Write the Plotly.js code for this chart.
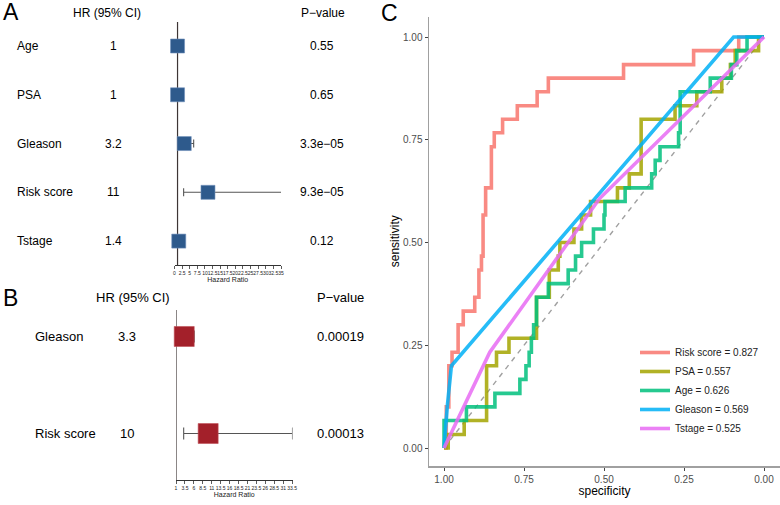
<!DOCTYPE html>
<html><head><meta charset="utf-8">
<script src="https://cdn.plot.ly/plotly-3.0.1.min.js"></script>
<style>html,body{margin:0;padding:0;background:#fff}#chart{width:780px;height:505px}</style>
</head><body><div id="chart"></div>
<script>
// ---------- Panel A: Cox regression (all variables) ----------
const varsA   = ['Age','PSA','Gleason','Risk score','Tstage'];
const hrA     = [1.0, 1.0, 3.2, 11, 1.4];
const hrTextA = ['1','1','3.2','11','1.4'];
const loA     = [0.98, 0.99, 1.85, 3.0, 0.92];
const hiA     = [1.04, 1.01, 6.3, 35.2, 2.1];
const pA      = ['0.55','0.65','3.3e\u221205','9.3e\u221205','0.12'];
const ticksA  = [0,2.5,5,7.5,10,12.5,15,17.5,20,22.5,25,27.5,30,32.5,35];

// ---------- Panel B: Cox regression (selected variables) ----------
const varsB   = ['Gleason','Risk score'];
const hrB     = [3.3, 10];
const hrTextB = ['3.3','10'];
const loB     = [1.8, 3.15];
const hiB     = [6.1, 33.6];
const pB      = ['0.00019','0.00013'];
const ticksB  = [1,3.5,6,8.5,11,13.5,16,18.5,21,23.5,26,28.5,31,33.5];

// ---------- Panel C: ROC curves ----------
const rocNames = ['Risk score','PSA','Age','Gleason','Tstage'];
const rocAUC   = ['0.827','0.557','0.626','0.569','0.525'];
const rocColors= ['rgba(248,118,109,0.85)','rgba(163,165,0,0.85)','rgba(0,191,125,0.85)','rgba(0,176,246,0.85)','rgba(231,107,243,0.85)'];
const riskSpec = [1,0.993,0.985,0.975,0.956,0.940,0.904,0.891,0.883,0.878,0.870,0.852,0.843,0.817,0.771,0.709,0.674,0.439,0.220,0.079,0];
const riskSens = [0,0,0.1,0.2,0.233,0.3,0.333,0.367,0.433,0.467,0.567,0.633,0.733,0.767,0.8,0.833,0.867,0.9,0.933,0.967,1];
const psaSpec  = [1,0.987,0.937,0.867,0.836,0.797,0.711,0.671,0.643,0.638,0.594,0.570,0.542,0.458,0.421,0.384,0.278,0.210,0.132,0.105,0.090,0.017,0];
const psaSens  = [0,0,0.033,0.067,0.2,0.233,0.267,0.367,0.433,0.467,0.5,0.533,0.567,0.6,0.633,0.667,0.8,0.833,0.867,0.9,0.933,0.967,1];
const ageSpec  = [1,0.930,0.841,0.763,0.744,0.734,0.727,0.720,0.711,0.674,0.612,0.589,0.570,0.533,0.5,0.497,0.434,0.351,0.340,0.325,0.267,0.262,0.168,0.102,0.085,0.053,0];
const ageSens  = [0,0.067,0.1,0.133,0.167,0.2,0.233,0.267,0.3,0.367,0.4,0.433,0.467,0.5,0.533,0.567,0.6,0.633,0.667,0.7,0.733,0.767,0.867,0.9,0.933,0.967,1];
const gleasonSpec = [1,0.99,0.977,0.095,0];
const gleasonSens = [0,0.1,0.2,1,1];
const tstageSpec  = [1,0.857,0.514,0];
const tstageSens  = [0,0.233,0.607,1];
const rocTicks = [0,0.25,0.5,0.75,1];
const rocTickText = ['0.00','0.25','0.50','0.75','1.00'];

const FONT = 'Liberation Sans, Arial, Helvetica, sans-serif';
const W = 780, H = 505;
const px = v => v / W;
const py = v => 1 - v / H;

const traces = [];
// ROC diagonal reference
traces.push({x:[1,0], y:[0,1], mode:'lines', line:{color:'#a0a0a0', width:1.4, dash:'5px,5px'},
  showlegend:false, hoverinfo:'skip', xaxis:'x', yaxis:'y'});
const rocSpec = [riskSpec, psaSpec, ageSpec, gleasonSpec, tstageSpec];
const rocSens = [riskSens, psaSens, ageSens, gleasonSens, tstageSens];
const rocShape = ['vh','vh','vh','linear','linear'];
rocNames.forEach((n,i)=>{
  traces.push({x:rocSpec[i], y:rocSens[i], mode:'lines', name: n + ' = ' + rocAUC[i],
    line:{color:rocColors[i], width:3.6, shape:rocShape[i]}, xaxis:'x', yaxis:'y', hoverinfo:'skip'});
});

// Forest A
traces.push({x:hrA, y:varsA, mode:'markers', marker:{opacity:0, size:2}, xaxis:'x2', yaxis:'y2',
  error_x:{type:'data', symmetric:false, array:hiA.map((h,i)=>h-hrA[i]), arrayminus:loA.map((l,i)=>hrA[i]-l),
  color:'#555', thickness:1.1, width:4}, showlegend:false, hoverinfo:'skip', cliponaxis:false});
traces.push({x:hrA, y:varsA, mode:'markers', marker:{symbol:'square', size:14, color:'#2E5A8C', line:{width:0.6,color:'#6f8fba'}},
  xaxis:'x2', yaxis:'y2', showlegend:false, hoverinfo:'skip', cliponaxis:false});
// Forest B
traces.push({x:hrB, y:varsB, mode:'markers', marker:{opacity:0, size:2}, xaxis:'x3', yaxis:'y3',
  error_x:{type:'data', symmetric:false, array:hiB.map((h,i)=>h-hrB[i]), arrayminus:loB.map((l,i)=>hrB[i]-l),
  color:'#555', thickness:1.1, width:6}, showlegend:false, hoverinfo:'skip', cliponaxis:false});
traces.push({x:hrB, y:varsB, mode:'markers', marker:{symbol:'square', size:20, color:'#A3202A', line:{width:0.6,color:'#c05058'}},
  xaxis:'x3', yaxis:'y3', showlegend:false, hoverinfo:'skip', cliponaxis:false});

const ann = [];
const addText = (text, x, y, yref, size, anchor) => ann.push({text, x, y, xref:'paper', yref, showarrow:false,
  xanchor:anchor, yanchor:'middle', font:{size, color:'#000', family:FONT}});
// panel letters
addText('A', px(0.5), py(12), 'paper', 23, 'left');
addText('B', px(0.5), py(297.5), 'paper', 23, 'left');
addText('C', px(379), py(12.5), 'paper', 23, 'left');
// Panel A table
addText('HR (95% CI)', px(107), py(12.7), 'paper', 12, 'center');
addText('P\u2212value', px(323), py(12.7), 'paper', 12, 'center');
varsA.forEach((v,i)=>{
  addText(v, px(14.5), v, 'y2', 12, 'left');
  addText(hrTextA[i], px(113), v, 'y2', 12, 'center');
  addText(pA[i], px(322), v, 'y2', 12, 'center');
});
// Panel B table
addText('HR (95% CI)', px(133), py(297), 'paper', 13, 'center');
addText('P\u2212value', px(340), py(297), 'paper', 13, 'center');
varsB.forEach((v,i)=>{
  addText(varsB[i], px(33), v, 'y3', 13, 'left');
  addText(hrTextB[i], px(127), v, 'y3', 13, 'center');
  addText(pB[i], px(340), v, 'y3', 13, 'center');
});

const forestX = (dom, range, ticks) => ({domain:dom, range:range, tickvals:ticks, ticktext:ticks.map(String),
  tickangle:0, tickfont:{size:5, color:'#222'}, showline:true, linecolor:'#333', linewidth:1, ticks:'outside',
  ticklen:3, tickwidth:0.8, tickcolor:'#333', showgrid:false, zeroline:false,
  title:{text:'Hazard Ratio', font:{size:7, color:'#222'}, standoff:2}});

const layout = {
  width:W, height:H, margin:{l:0,r:0,t:0,b:0}, paper_bgcolor:'#fff', plot_bgcolor:'rgba(0,0,0,0)',
  font:{family:FONT, color:'#000'},
  showlegend:true,
  legend:{x:px(635), y:py(338), xanchor:'left', yanchor:'top', bgcolor:'rgba(0,0,0,0)', font:{size:10, color:'#222'}},
  xaxis:{domain:[px(429),1], range:[1.047,-0.05], tickvals:rocTicks, ticktext:rocTickText, showgrid:false, zeroline:false,
    showline:true, linecolor:'#a0a0a0', linewidth:1.5, ticks:'outside', ticklen:3, tickcolor:'#444',
    tickfont:{size:10, color:'#4d4d4d'}, title:{text:'specificity', font:{size:12, color:'#000'}, standoff:1}, anchor:'y'},
  yaxis:{domain:[py(466), py(16.5)], range:[-0.0438,1.05], tickvals:rocTicks, ticktext:rocTickText, showgrid:false, zeroline:false,
    showline:true, linecolor:'#a0a0a0', linewidth:1.5, ticks:'outside', ticklen:3, tickcolor:'#444',
    tickfont:{size:10, color:'#4d4d4d'}, title:{text:'sensitivity', font:{size:12, color:'#000'}, standoff:1}, anchor:'x'},
  xaxis2: Object.assign(forestX([px(174.5), px(281)], [0,35], ticksA), {anchor:'y2'}),
  yaxis2:{domain:[py(265), py(22)], type:'category', categoryorder:'array', categoryarray:varsA, range:[4.49,-0.492], visible:false, anchor:'x2'},
  xaxis3: Object.assign(forestX([px(176), px(292.5)], [1,33.6], ticksB), {anchor:'y3'}),
  yaxis3:{domain:[py(480), py(310)], type:'category', categoryorder:'array', categoryarray:varsB, range:[1.479,-0.273], visible:false, anchor:'x3'},
  shapes:[
    {type:'line', xref:'x2', yref:'y2 domain', x0:1, x1:1, y0:0, y1:1, line:{color:'#3d3535', width:1.2}, layer:'below'},
    {type:'line', xref:'x3', yref:'y3 domain', x0:1, x1:1, y0:0, y1:1, line:{color:'#3d3535', width:1.2}, layer:'below'}
  ],
  annotations: ann
};
Plotly.newPlot('chart', traces, layout, {displayModeBar:false, staticPlot:true});
</script></body></html>
